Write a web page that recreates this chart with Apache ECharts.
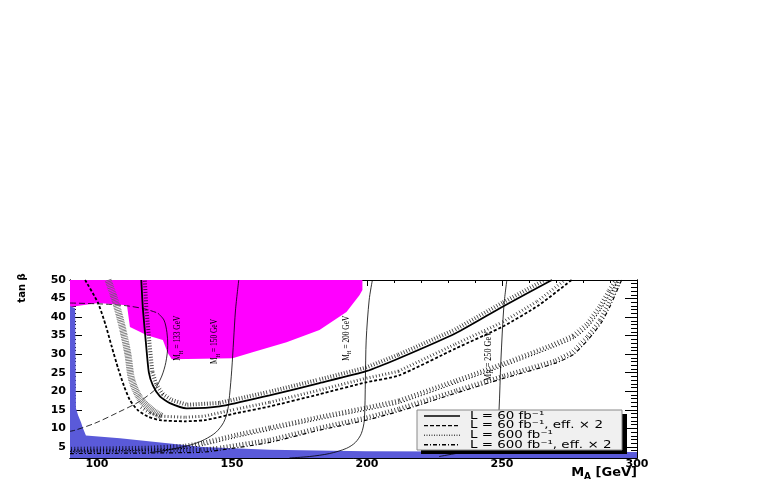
<!DOCTYPE html>
<html>
<head>
<meta charset="utf-8">
<script src="https://cdn.jsdelivr.net/npm/echarts@6.0.0/dist/echarts.min.js"></script>
<style>
  html, body { margin: 0; padding: 0; background: #fff; }
  #chart { width: 763px; height: 480px; }
</style>
</head>
<body>
<div id="chart"></div>
<script>
// axes
var xLabels = [100, 150, 200, 250, 300];
var yLabels = [5, 10, 15, 20, 25, 30, 35, 40, 45, 50];

// discovery contours (M_A [GeV], tan beta)
var solidX = [116.4, 117.0, 118.1, 119.2, 120.7, 123.3, 127.0, 133.2, 145.4, 163.9, 182.4, 199.7, 211.9, 233.0, 250.7, 268.5];
var solidY = [50, 42.2, 33.2, 25.1, 21.6, 18.6, 16.8, 15.4, 15.9, 18.9, 22.2, 25.4, 28.9, 35.7, 43.0, 50];

var dashX = [95.6, 100.4, 103.3, 105.5, 107.8, 110.0, 112.2, 115.1, 118.8, 123.3, 132.5, 139.9, 151.7, 163.9, 182.4, 199.7, 211.9, 233.0, 250.7, 263.6, 275.8];
var dashY = [50, 43.8, 37.6, 31.9, 26.2, 21.4, 17.6, 14.9, 13.2, 12.2, 11.9, 12.2, 14.1, 15.9, 19.2, 22.4, 24.3, 31.6, 37.6, 43.2, 50];

var dotX = [90, 119.6, 132.5, 139.2, 151.7, 163.9, 182.4, 199.7, 211.9, 233.0, 250.7, 267.3, 276.6, 282.1, 286.9, 290.2, 293.2];
var dotY = [3.8, 4.1, 4.6, 5.4, 7.6, 9.5, 12.4, 14.9, 16.8, 22.2, 26.8, 31.4, 34.3, 37.6, 42.4, 46.5, 50];

var ddX = [90, 138.0, 145.4, 163.9, 182.4, 199.7, 211.9, 233.0, 250.7, 269.9, 276.6, 282.1, 286.9, 290.2, 294.3];
var ddY = [3.2, 3.5, 4.1, 6.2, 9.5, 12.2, 14.6, 19.5, 23.5, 27.6, 30.0, 34.1, 38.6, 43.2, 50];

// dense hatched band left of the L=60 eff x2 curve
var bandX = [104.1, 107.0, 109.6, 111.5, 112.9, 115.9, 120.3, 124.0];
var bandY = [50, 43.8, 36.5, 29.7, 23.0, 18.1, 14.9, 13.2];

// excluded regions
var magX = [90, 100.4, 111.1, 112.2, 118.5, 124.4, 126.2, 127.7, 150.2, 157.6, 170.2, 182.4, 192.4, 197.2, 198.3, 198.3];
var magY = [42.7, 43.8, 43.2, 37.3, 35.1, 33.8, 30.3, 28.6, 28.9, 30.5, 33.2, 36.5, 41.4, 45.9, 47.3, 50];
var blueX = [90, 91.9, 92.2, 93.0, 94.1, 94.8, 95.9, 108.5, 127.0, 139.2, 163.9, 199.7, 300];
var blueY = [43.0, 42.4, 15.4, 13.5, 11.6, 10.0, 8.1, 7.3, 5.9, 5.0, 4.2, 3.8, 3.6];

// M_H iso-mass lines
var m133aX = [90.0, 99.3, 105.2, 111.5, 117.7, 122.5];
var m133aY = [43.8, 43.6, 43.4, 43.0, 42.2, 41.1];
var m133bX = [122.5, 124.8, 125.9, 126.2, 125.5, 124.0, 121.4];
var m133bY = [41.1, 39.2, 35.9, 32.4, 27.8, 24.1, 20.3];
var m133cX = [121.4, 115.9, 107.8, 99.3, 91.9, 90.0];
var m133cY = [20.3, 17.3, 14.3, 11.4, 9.5, 9.2];
var m150X = [152.5, 151.3, 150.6, 149.9, 149.1, 148.4, 146.9, 144.0, 139.9, 135.5, 129.2, 123.3, 119.6];
var m150Y = [50, 41.9, 33.8, 25.7, 18.9, 14.9, 11.6, 8.9, 7.0, 5.7, 4.6, 3.8, 3.5];
var m200X = [202.0, 200.8, 199.7, 199.4, 199.0, 197.9, 195.7, 192.4, 186.1, 178.7, 171.3];
var m200Y = [50, 44.6, 33.8, 23.0, 12.2, 8.6, 6.2, 4.6, 3.2, 2.4, 2.0];
var m250X = [251.8, 250.7, 249.6, 248.9, 248.1, 244.4, 235.2, 226.7];
var m250Y = [50, 43.0, 28.4, 14.9, 6.8, 4.6, 3.5, 2.4];

var mhLabels = ['133', '150', '200', '250'];
var mhLabelX = [129.9, 143.6, 192.4, 244.8];
var mhLabelY = [34.3, 33.4, 34.3, 29.5];

var legendNames = ['L = 60 fb\u207B\u00B9', 'L = 60 fb\u207B\u00B9, eff. \u00D7 2', 'L = 600 fb\u207B\u00B9', 'L = 600 fb\u207B\u00B9, eff. \u00D7 2'];
var legendDash = [null, [4, 2], [1, 1.5], [4, 2, 1, 2]];

function pts(xs, ys) {
  return xs.map(function (x, i) { return [x, ys[i]]; });
}

function curve(xs, ys, width, type, smooth) {
  return {
    type: 'line', data: pts(xs, ys), showSymbol: false, smooth: smooth || 0, z: 3,
    lineStyle: { color: '#000', width: width, type: type || 'solid' }
  };
}

// short ticks on the inner side of a contour
function hatch(xs, ys, from, off, len, gap, lw) {
  return {
    type: 'custom', silent: true, clip: true, z: 4,
    data: pts(xs, ys),
    renderItem: function (params, api) {
      var i = params.dataIndex;
      if (i < from || i >= xs.length - 1) return null;
      var a = api.coord([xs[i], ys[i]]);
      var b = api.coord([xs[i + 1], ys[i + 1]]);
      var dx = b[0] - a[0], dy = b[1] - a[1];
      var d = Math.sqrt(dx * dx + dy * dy);
      if (!d) return null;
      var ux = dx / d, uy = dy / d, nx = uy, ny = -ux;
      var kids = [];
      for (var s = gap / 2; s < d; s += gap) {
        var px = a[0] + ux * s, py = a[1] + uy * s;
        kids.push({
          type: 'line',
          shape: { x1: px + nx * off, y1: py + ny * off, x2: px + nx * (off + len), y2: py + ny * (off + len) },
          style: { stroke: '#000', lineWidth: lw }
        });
      }
      return { type: 'group', children: kids };
    }
  };
}

function xAx(pos, len, major, labels) {
  var ax = {
    type: 'value', min: 90, max: 300, position: pos,
    axisLine: { show: true, onZero: false, lineStyle: { color: '#000', width: 1 } },
    axisTick: { show: true, inside: true, length: len, lineStyle: { color: '#000' } },
    axisLabel: { show: false },
    splitLine: { show: false }
  };
  if (major) ax.axisTick.customValues = xLabels; else ax.interval = 10;
  if (labels) ax.axisLabel = { show: true, customValues: xLabels, color: '#000', fontFamily: 'DejaVu Sans', fontWeight: 'bold', fontSize: 11, margin: 1 };
  return ax;
}

function yAx(pos, len, major, labels) {
  var ax = {
    type: 'value', min: 2, max: 50, position: pos,
    axisLine: { show: true, onZero: false, lineStyle: { color: '#000', width: 1 } },
    axisTick: { show: true, inside: true, length: len, lineStyle: { color: '#000' } },
    axisLabel: { show: false },
    splitLine: { show: false }
  };
  if (major) ax.axisTick.customValues = yLabels; else ax.interval = 1;
  if (labels) ax.axisLabel = { show: true, customValues: yLabels, color: '#000', fontFamily: 'DejaVu Sans', fontWeight: 'bold', fontSize: 11, margin: 4 };
  return ax;
}

var chart = echarts.init(document.getElementById('chart'));
chart.setOption({
  animation: false,
  backgroundColor: '#fff',
  grid: { left: 70, right: 126, top: 280, bottom: 22 },
  xAxis: [xAx('bottom', 3, false, true), xAx('bottom', 6, true), xAx('top', 3, false), xAx('top', 6, true)],
  yAxis: [yAx('left', 6, false, true), yAx('left', 12, true), yAx('right', 6, false), yAx('right', 12, true)],
  series: [
    { type: 'line', data: pts(magX, magY), showSymbol: false, z: 1, lineStyle: { width: 0, opacity: 0 },
      areaStyle: { origin: 'end', color: '#ff00ff', opacity: 1 } },
    { type: 'line', data: pts(blueX, blueY), showSymbol: false, z: 1, lineStyle: { width: 0, opacity: 0 },
      areaStyle: { origin: 'start', color: '#5a5ad9', opacity: 1 } },
    curve(m133aX, m133aY, 0.8, [6, 3], 0.3),
    curve(m133bX, m133bY, 0.8, 'solid', 0.3),
    curve(m133cX, m133cY, 0.8, [6, 3], 0.3),
    curve(m150X, m150Y, 0.8, 'solid', 0.3),
    curve(m200X, m200Y, 0.8, 'solid', 0.3),
    curve(m250X, m250Y, 0.8, 'solid', 0.3),
    { type: 'line', data: pts(bandX, bandY), showSymbol: false, smooth: 0.3, z: 3,
      lineStyle: { color: '#666', width: 7, type: [0.7, 0.9], cap: 'butt' } },
    curve(solidX, solidY, 1.8, 'solid', 0.2),
    curve(dashX, dashY, 1.8, [3, 2], 0.2),
    curve(dotX, dotY, 1.2, [1, 2], 0.2),
    curve(ddX, ddY, 1.2, [4, 2, 1, 2], 0.2),
    hatch(solidX, solidY, 0, 1.5, 4, 2.8, 0.7),
    hatch(dashX, dashY, 7, 2.5, 3, 3.2, 0.7),
    hatch(dotX, dotY, 0, 0.5, 4, 3.2, 0.7),
    hatch(ddX, ddY, 0, 0.5, 4, 3.2, 0.7)
  ]
});

var g = [];
// M_H labels
mhLabels.forEach(function (t, i) {
  var p = chart.convertToPixel({ seriesIndex: 0 }, [mhLabelX[i], mhLabelY[i]]);
  var fs = i === 3 ? 11 : 10;
  g.push({
    type: 'text', x: p[0], y: p[1], rotation: Math.PI / 2, scaleX: 0.74, z: 50,
    style: {
      text: '{a|M}{b|H}{a| = ' + t + ' GeV}', align: 'center', verticalAlign: 'middle',
      rich: {
        a: { fontFamily: 'Liberation Serif', fontSize: fs, fill: '#000', lineHeight: 13 },
        b: { fontFamily: 'Liberation Serif', fontSize: fs - 3, fill: '#000', verticalAlign: 'bottom', lineHeight: 8 }
      }
    }
  });
});
// legend box
g.push({ type: 'rect', z: 60, shape: { x: 421, y: 414, width: 206, height: 40 }, style: { fill: '#000' } });
g.push({ type: 'rect', z: 61, shape: { x: 417, y: 410, width: 205, height: 40 }, style: { fill: '#f0f0f0', stroke: '#888', lineWidth: 1 } });
legendNames.forEach(function (t, i) {
  var yy = 416 + i * 9.6;
  g.push({ type: 'line', z: 62, shape: { x1: 424, y1: yy, x2: 460, y2: yy },
    style: { stroke: '#000', lineWidth: i === 2 ? 1 : 1.4, lineDash: legendDash[i] } });
  g.push({ type: 'text', z: 62, x: 470, y: yy, scaleX: 1.22,
    style: { text: t, fontFamily: 'DejaVu Sans', fontSize: 11, fill: '#000', verticalAlign: 'middle' } });
});
// axis titles
g.push({ type: 'text', z: 50, x: 637, y: 473,
  style: { text: '{a|M}{b|A}{a| [GeV]}', align: 'right', verticalAlign: 'middle',
    rich: {
      a: { fontFamily: 'DejaVu Sans', fontWeight: 'bold', fontSize: 13, fill: '#000', lineHeight: 16 },
      b: { fontFamily: 'DejaVu Sans', fontWeight: 'bold', fontSize: 9, fill: '#000', verticalAlign: 'bottom', lineHeight: 10 }
    } } });
g.push({ type: 'text', z: 50, x: 22, y: 288, rotation: Math.PI / 2,
  style: { text: 'tan \u03B2', fontFamily: 'DejaVu Sans', fontWeight: 'bold', fontSize: 10, fill: '#000', align: 'center', verticalAlign: 'middle' } });
chart.setOption({ graphic: g });
</script>
</body>
</html>
